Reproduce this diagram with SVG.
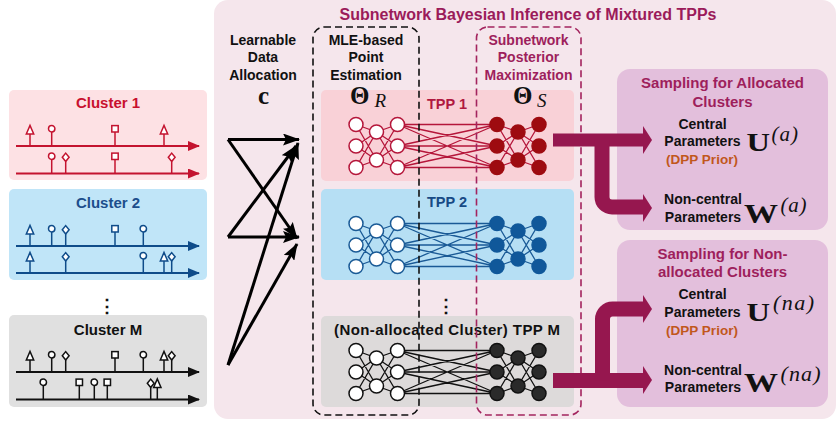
<svg xmlns="http://www.w3.org/2000/svg" width="838" height="423" viewBox="0 0 838 423">
<defs>
<style>
text{font-family:"Liberation Sans",Arial,sans-serif;font-weight:bold;}
.lbl{font-size:14px;text-anchor:middle;fill:#111;}
.ctitle{font-size:15px;text-anchor:middle;}
.ptitle{font-size:15px;text-anchor:middle;fill:#9e1f5c;}
.dpp{font-size:13.5px;text-anchor:middle;fill:#c1571c;}
.math{font-family:"Liberation Serif","Times New Roman",serif;font-weight:bold;fill:#111;}
.mathi{font-family:"Liberation Serif","Times New Roman",serif;font-style:italic;font-weight:normal;fill:#111;}
.ev{fill:#fff;stroke-width:1.5;}
.tl{stroke-width:2;fill:none;}
.net{fill:none;stroke-width:1.3;}
.thick{fill:none;stroke:#96174f;}
.head{fill:#96174f;}
.blk{stroke:#000;stroke-width:3;fill:none;marker-end:url(#ah);}
</style>
<marker id="ah" viewBox="0 0 17 12" markerWidth="17" markerHeight="12" refX="16" refY="6" orient="auto" markerUnits="userSpaceOnUse"><path d="M0,0L17,6L0,12L3,6Z" fill="#000"/></marker>
<marker id="tlr" viewBox="0 0 12 10" markerWidth="12" markerHeight="10" refX="11" refY="5" orient="auto" markerUnits="userSpaceOnUse"><path d="M0,0L12,5L0,10Z" fill="#c4132f"/></marker>
<marker id="tlb" viewBox="0 0 12 10" markerWidth="12" markerHeight="10" refX="11" refY="5" orient="auto" markerUnits="userSpaceOnUse"><path d="M0,0L12,5L0,10Z" fill="#0f4c8a"/></marker>
<marker id="tlk" viewBox="0 0 12 10" markerWidth="12" markerHeight="10" refX="11" refY="5" orient="auto" markerUnits="userSpaceOnUse"><path d="M0,0L12,5L0,10Z" fill="#111"/></marker>
<g id="ev-tri"><path d="M0,0V-12"/><path d="M-3.7,-12L0,-20.5L3.7,-12Z"/></g>
<g id="ev-cir"><path d="M0,0V-14"/><circle cx="0" cy="-17.2" r="3.2"/></g>
<g id="ev-sq"><path d="M0,0V-14"/><rect x="-3.2" y="-20.4" width="6.4" height="6.4"/></g>
<g id="ev-dia"><path d="M0,0V-12"/><path d="M0,-20.4L3.4,-16.2L0,-12L-3.4,-16.2Z"/></g>
<path id="netlines" d="M356,34.5L376.5,42M356,34.5L376.5,70M356,56L376.5,42M356,56L376.5,70M356,77.5L376.5,42M356,77.5L376.5,70M376.5,42L397.5,34.5M376.5,42L397.5,56M376.5,42L397.5,77.5M376.5,70L397.5,34.5M376.5,70L397.5,56M376.5,70L397.5,77.5M397.5,34.5L497,34.5M397.5,34.5L497,56M397.5,34.5L497,77.5M397.5,56L497,34.5M397.5,56L497,56M397.5,56L497,77.5M397.5,77.5L497,34.5M397.5,77.5L497,56M397.5,77.5L497,77.5M497,34.5L518,42M497,34.5L518,70M497,56L518,42M497,56L518,70M497,77.5L518,42M497,77.5L518,70M518,42L539,34.5M518,42L539,56M518,42L539,77.5M518,70L539,34.5M518,70L539,56M518,70L539,77.5"/>
<g id="netL"><circle cx="356" cy="34.5" r="7"/><circle cx="356" cy="56" r="7"/><circle cx="356" cy="77.5" r="7"/><circle cx="376.5" cy="42" r="7"/><circle cx="376.5" cy="70" r="7"/><circle cx="397.5" cy="34.5" r="7"/><circle cx="397.5" cy="56" r="7"/><circle cx="397.5" cy="77.5" r="7"/></g>
<g id="netR"><circle cx="497" cy="34.5" r="7"/><circle cx="497" cy="56" r="7"/><circle cx="497" cy="77.5" r="7"/><circle cx="518" cy="42" r="7"/><circle cx="518" cy="70" r="7"/><circle cx="539" cy="34.5" r="7"/><circle cx="539" cy="56" r="7"/><circle cx="539" cy="77.5" r="7"/></g>
</defs>
<rect x="0" y="0" width="838" height="423" fill="#fff"/>
<g id="main-panel">
<rect x="214" y="0" width="622" height="419" rx="14" fill="#f5e6ec"/>
<text x="528" y="20" font-size="16" text-anchor="middle" fill="#9b1b5a">Subnetwork Bayesian Inference of Mixtured TPPs</text>
</g>
<g id="cluster1">
<rect x="9" y="90" width="198" height="90" rx="5" fill="#fde1e4"/>
<text class="ctitle" x="108" y="108" fill="#c8102e">Cluster 1</text>
<g stroke="#c4132f"><path class="tl" d="M16,146H199" marker-end="url(#tlr)"/><path class="tl" d="M16,173.5H199" marker-end="url(#tlr)"/>
<g class="ev"><use href="#ev-tri" x="30" y="146"/><use href="#ev-cir" x="51.7" y="146"/><use href="#ev-sq" x="115" y="146"/><use href="#ev-tri" x="164" y="146"/>
<use href="#ev-cir" x="51.7" y="173.5"/><use href="#ev-dia" x="65.7" y="173.5"/><use href="#ev-sq" x="115" y="173.5"/><use href="#ev-dia" x="171.7" y="173.5"/></g></g>
</g>
<g id="cluster2">
<rect x="9" y="189" width="198" height="91" rx="5" fill="#c0e5f8"/>
<text class="ctitle" x="108" y="207.5" fill="#1c4e8c">Cluster 2</text>
<g stroke="#0f4c8a"><path class="tl" d="M16,246H199" marker-end="url(#tlb)"/><path class="tl" d="M16,273H199" marker-end="url(#tlb)"/>
<g class="ev"><use href="#ev-tri" x="30" y="246"/><use href="#ev-cir" x="51.7" y="246"/><use href="#ev-dia" x="65.7" y="246"/><use href="#ev-sq" x="115" y="246"/><use href="#ev-cir" x="143.3" y="246"/>
<use href="#ev-tri" x="30" y="273"/><use href="#ev-dia" x="65.7" y="273"/><use href="#ev-cir" x="143.3" y="273"/><use href="#ev-tri" x="164" y="273"/><use href="#ev-dia" x="171.7" y="273"/></g></g>
</g>
<text x="107" y="312" font-family="DejaVu Sans, sans-serif" font-weight="normal" font-size="18" text-anchor="middle" fill="#111">⋮</text>
<g id="clusterM">
<rect x="9" y="315" width="198" height="92" rx="5" fill="#e0e0e0"/>
<text class="ctitle" x="108" y="335" fill="#111">Cluster M</text>
<g stroke="#111"><path class="tl" d="M16,372H199" marker-end="url(#tlk)"/><path class="tl" d="M16,399.5H199" marker-end="url(#tlk)"/>
<g class="ev"><use href="#ev-tri" x="30" y="372"/><use href="#ev-cir" x="51.7" y="372"/><use href="#ev-dia" x="65.7" y="372"/><use href="#ev-sq" x="115" y="372"/><use href="#ev-cir" x="143.3" y="372"/><use href="#ev-tri" x="164" y="372"/><use href="#ev-dia" x="171.7" y="372"/>
<use href="#ev-cir" x="43.3" y="399.5"/><use href="#ev-sq" x="79.3" y="399.5"/><use href="#ev-cir" x="94.3" y="399.5"/><use href="#ev-sq" x="107.3" y="399.5"/><use href="#ev-dia" x="150.7" y="399.5"/><use href="#ev-tri" x="157.3" y="399.5"/></g></g>
</g>
<g id="allocation-label">
<text class="lbl" x="263" y="44.5">Learnable</text>
<text class="lbl" x="263" y="62">Data</text>
<text class="lbl" x="263" y="79.5">Allocation</text>
<text class="math" x="263.5" y="104" font-size="25" text-anchor="middle">c</text>
</g>
<g id="tpp1">
<rect x="321" y="90" width="253" height="91" rx="5" fill="#f9d1d7"/>
<use href="#netlines" y="90" class="net" stroke="#b5163a"/>
<use href="#netL" y="90" fill="#fff" stroke="#b5163a" stroke-width="1.5"/>
<use href="#netR" y="90" fill="#9e0b10" stroke="#9e0b10" stroke-width="1.5"/>
<text x="447" y="108.5" font-size="14.5" text-anchor="middle" fill="#b01840">TPP 1</text>
<text class="math" x="350" y="103.5" font-size="25">Θ</text><text class="mathi" x="374.5" y="107" font-size="19">R</text>
<text class="math" x="513" y="103.5" font-size="25">Θ</text><text class="mathi" x="537" y="107" font-size="19">S</text>
</g>
<g id="tpp2">
<rect x="321" y="189" width="253" height="91" rx="5" fill="#b6dff4"/>
<use href="#netlines" y="189" class="net" stroke="#1a5a96"/>
<use href="#netL" y="189" fill="#fff" stroke="#1a5a96" stroke-width="1.5"/>
<use href="#netR" y="189" fill="#10589a" stroke="#10589a" stroke-width="1.5"/>
<text x="447" y="207" font-size="14.5" text-anchor="middle" fill="#174a85">TPP 2</text>
</g>
<text x="446" y="312" font-family="DejaVu Sans, sans-serif" font-weight="normal" font-size="18" text-anchor="middle" fill="#111">⋮</text>
<g id="tppM">
<rect x="321" y="316" width="253" height="91" rx="5" fill="#dddada"/>
<use href="#netlines" y="316" class="net" stroke="#111"/>
<use href="#netL" y="316" fill="#fff" stroke="#111" stroke-width="1.5"/>
<use href="#netR" y="316" fill="#2a2a2a" stroke="#111" stroke-width="1.5"/>
<text x="447" y="335" font-size="15" text-anchor="middle" fill="#111" textLength="226">(Non-allocated Cluster) TPP M</text>
</g>
<g id="mle-box">
<rect x="313" y="27" width="106" height="388" rx="11" fill="none" stroke="#111" stroke-width="1.6" stroke-dasharray="7 4"/>
<text class="lbl" x="366" y="44.5">MLE-based</text>
<text class="lbl" x="366" y="62">Point</text>
<text class="lbl" x="366" y="79.5">Estimation</text>
</g>
<g id="posterior-box">
<rect x="476.5" y="27" width="104.5" height="388" rx="11" fill="none" stroke="#a3245e" stroke-width="1.6" stroke-dasharray="7 4"/>
<text class="lbl" x="528.5" y="44.5" style="fill:#9e1f5c">Subnetwork</text>
<text class="lbl" x="528.5" y="62" style="fill:#9e1f5c">Posterior</text>
<text class="lbl" x="528.5" y="79.5" style="fill:#9e1f5c">Maximization</text>
</g>
<g id="panel-allocated">
<rect x="617" y="69" width="211" height="161" rx="13" fill="#e3bfdc"/>
<text class="ptitle" x="722.5" y="88">Sampling for Allocated</text>
<text class="ptitle" x="722.5" y="107">Clusters</text>
<text class="lbl" x="702.5" y="128.5">Central</text>
<text class="lbl" x="702.5" y="146">Parameters</text>
<text class="dpp" x="702" y="163.5">(DPP Prior)</text>
<text class="math" x="746.5" y="151" font-size="26" textLength="23.5" lengthAdjust="spacingAndGlyphs">U</text>
<text class="mathi" x="771.5" y="141" font-size="21" textLength="26.5">(a)</text>
<text class="lbl" x="703" y="203.5">Non-central</text>
<text class="lbl" x="703" y="222">Parameters</text>
<text class="math" x="744" y="222.5" font-size="27" textLength="34" lengthAdjust="spacingAndGlyphs">W</text>
<text class="mathi" x="780.5" y="212" font-size="21" textLength="26">(a)</text>
</g>
<g id="panel-nonallocated">
<rect x="617" y="240" width="211" height="167" rx="13" fill="#e3bfdc"/>
<text class="ptitle" x="722.5" y="258.5">Sampling for Non-</text>
<text class="ptitle" x="722.5" y="277">allocated Clusters</text>
<text class="lbl" x="702.5" y="298.5">Central</text>
<text class="lbl" x="702.5" y="316.5">Parameters</text>
<text class="dpp" x="702" y="334.5">(DPP Prior)</text>
<text class="math" x="746.5" y="321" font-size="26" textLength="23.5" lengthAdjust="spacingAndGlyphs">U</text>
<text class="mathi" x="773" y="310" font-size="22" textLength="41">(na)</text>
<text class="lbl" x="703" y="374.5">Non-central</text>
<text class="lbl" x="703" y="392">Parameters</text>
<text class="math" x="744" y="392" font-size="27" textLength="34" lengthAdjust="spacingAndGlyphs">W</text>
<text class="mathi" x="780.5" y="381" font-size="22" textLength="40">(na)</text>
</g>
<g id="connectors">
<path class="blk" d="M228,139.5L299,139.5"/>
<path class="blk" d="M228,139.5L297,238.5"/>
<path class="blk" d="M228,237L299,237"/>
<path class="blk" d="M228,237L296,146"/>
<path class="blk" d="M228,365L298,143"/>
<path class="blk" d="M228,365L297,244"/>
<path class="thick" stroke-width="13" d="M553,140H644"/>
<path class="thick" stroke-width="15" d="M602,140V197A10,10 0 0 0 612,207H644"/>
<polygon class="head" points="643,126 652,140 643,154"/>
<polygon class="head" points="643,194 652,208 643,222"/>
<path class="thick" stroke-width="15" d="M553,380.5H644"/>
<path class="thick" stroke-width="15" d="M602.5,380.5V319A10,10 0 0 1 612.5,309H644"/>
<polygon class="head" points="643,295 652,309 643,323"/>
<polygon class="head" points="643,366 652,380 643,394"/>
</g>
</svg>
